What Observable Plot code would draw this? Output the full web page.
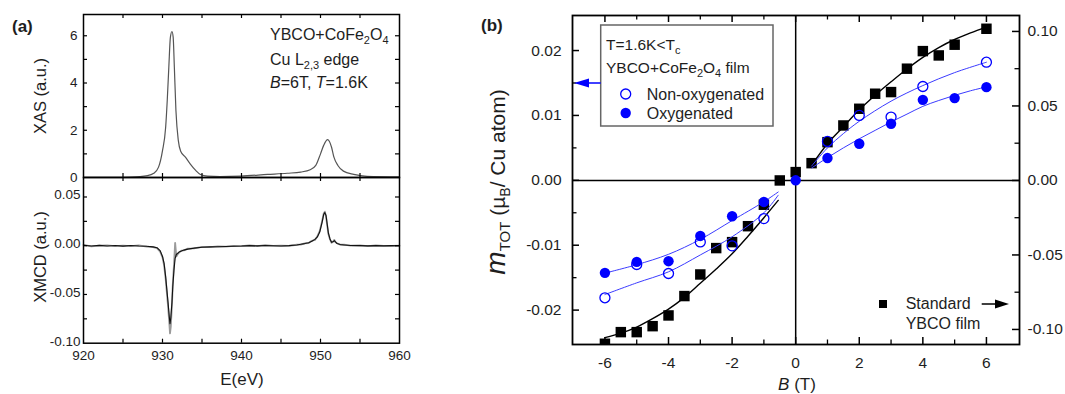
<!DOCTYPE html>
<html><head><meta charset="utf-8">
<script src="https://cdn.jsdelivr.net/npm/d3@7"></script>
<script src="https://cdn.jsdelivr.net/npm/@observablehq/plot@0.6"></script>
<style>
body{margin:0;background:#fff;}
#root{position:relative;width:1065px;height:394px;overflow:hidden;background:#fff;}
.layer{position:absolute;}
.layer svg{display:block;}
</style></head><body><div id="root"></div>
<script>
// ---------------- Panel (a) data ----------------
const xasE = [920, 924, 926, 928.1, 928.9, 929.5, 930.0, 930.4, 930.6, 930.8, 931.0, 931.2, 931.35, 931.5, 931.7, 932.0, 932.3, 932.9, 933.5, 934.2, 934.8, 935.7, 937.3, 939.9, 943.3, 945.8, 947.5, 948.7, 949.4, 950.0, 950.4, 950.9, 951.4, 951.7, 952.2, 952.9, 954.2, 955.9, 960];
const xasI = [0.01, 0.01, 0.02, 0.08, 0.18, 0.44, 1.14, 2.13, 3.26, 4.67, 5.94, 6.18, 5.94, 4.67, 2.84, 1.57, 1.11, 0.86, 0.58, 0.30, 0.13, 0.06, 0.04, 0.06, 0.13, 0.18, 0.23, 0.33, 0.51, 1.00, 1.36, 1.60, 1.28, 0.86, 0.51, 0.27, 0.13, 0.05, 0.03];

const xmcdE = [920, 921, 922, 923, 924, 925, 926, 927, 928, 928.8,
  929.3, 929.7, 930.0, 930.2, 930.4, 930.55, 930.7, 930.85, 930.95, 931.05,
  931.2, 931.3, 931.45, 931.6, 931.75, 931.9, 932.1, 932.4, 932.7, 933.2,
  934, 935, 936, 937, 938, 939, 940, 941, 942, 943,
  944, 945, 946, 947, 947.5, 948, 948.5, 948.9, 949.3, 949.6,
  949.9, 950.2, 950.4, 950.55, 950.7, 950.85, 951.0, 951.2, 951.4, 951.6,
  951.75, 951.9, 952.1, 952.5, 953, 953.8, 955, 956, 957, 958,
  959, 960];
const xmcdBlack = [0.0005, -0.0003, 0.0004, -0.0002, 0.0003, -0.0004, 0.0002, -0.0003, -0.0006, -0.0012,
  -0.002, -0.005, -0.011, -0.018, -0.032, -0.045, -0.058, -0.072, -0.080, -0.074,
  -0.058, -0.042, -0.025, -0.013, -0.009, -0.008, -0.0065, -0.0055, -0.0045, -0.0035,
  -0.0025, -0.0015, -0.0012, -0.001, -0.0008, -0.0005, -0.0003, 0.0001, -0.0002, 0.0002,
  0, -0.0003, 0.0001, 0.0008, 0.0015, 0.0022, 0.003, 0.0045, 0.0065, 0.009,
  0.014, 0.024, 0.032, 0.034, 0.031, 0.022, 0.013, 0.007, 0.0035, 0.004,
  0.0052, 0.004, 0.0022, 0.0012, 0.0008, 0.0003, 0.0001, -0.0002, 0.0001, -0.0002,
  0.0001, 0];
const xmcdGray = [0.0008, -0.0006, 0.0001, 0.0004, -0.0005, 0.0002, -0.0004, 0.0003, -0.0009, -0.0015,
  -0.0025, -0.006, -0.012, -0.020, -0.034, -0.048, -0.062, -0.078, -0.090, -0.083,
  -0.060, -0.040, -0.020, 0.003, -0.011, -0.009, -0.007, -0.005, -0.0048, -0.003,
  -0.0028, -0.0012, -0.0015, -0.0007, -0.001, -0.0002, -0.0005, 0.0004, -0.0004, 0.0005,
  -0.0002, 0.0001, -0.0002, 0.001, 0.0012, 0.0025, 0.0028, 0.005, 0.006, 0.0095,
  0.015, 0.025, 0.033, 0.035, 0.030, 0.021, 0.012, 0.0065, 0.003, 0.0045,
  0.006, 0.0035, 0.0025, 0.001, 0.0011, 0.0001, 0.0004, -0.0004, 0.0003, -0.0001,
  -0.0003, 0.0001];

const xasYLabels = [0, 2, 4, 6];
const xmcdYLabels = [-0.10, -0.05, 0.00, 0.05];
const eLabels = [920, 930, 940, 950, 960];

// ---------------- Panel (b) data ----------------
// Standard YBCO film (right axis)
const stdB = [-6, -5.5, -5, -4.5, -4, -3.5, -3, -2.5, -2, -1.5, -1, -0.5, 0, 0.5, 1, 1.5, 2, 2.5, 3, 3.5, 4, 4.5, 5, 6];
const stdM = [-0.1096, -0.1018, -0.1018, -0.0978, -0.0906, -0.0776, -0.0631, -0.0454, -0.0414, -0.0307, -0.0163, 0.0, 0.0056, 0.0116, 0.0257, 0.0369, 0.0481, 0.0582, 0.0593, 0.0750, 0.0868, 0.0839, 0.0911, 0.1018];
const stdFitNegB = [-6, -5.5, -5, -4.5, -4, -3.5, -3, -2.5, -2, -1.5, -1, -0.55];
const stdFitNegM = [-0.1055, -0.1025, -0.0984, -0.0928, -0.0864, -0.0785, -0.0690, -0.0594, -0.0492, -0.0374, -0.0250, -0.0134];
const stdFitPosB = [0.5, 1, 1.5, 2, 2.5, 3, 3.5, 4, 4.5, 5, 5.5, 6];
const stdFitPosM = [0.0101, 0.0246, 0.0360, 0.0474, 0.0572, 0.0662, 0.0748, 0.0826, 0.0892, 0.0946, 0.0990, 0.1029];
// YBCO+CoFe2O4 film (left axis)
const oxyB = [-6, -5, -4, -3, -2, -1, 0, 1, 2, 3, 4, 5, 6];
const oxyM = [-0.01426, -0.01257, -0.01246, -0.00857, -0.00554, -0.00333, 0, 0.00343, 0.00564, 0.00872, 0.0124, 0.01267, 0.01436];
const nonOxyB = [-6, -5, -4, -3, -2, -1, 1, 2, 3, 4, 6];
const nonOxyM = [-0.0181, -0.01297, -0.01436, -0.0095, -0.0101, -0.0059, 0.0060, 0.0100, 0.00974, 0.01446, 0.0182];
const oxyFitNegB = [-6, -5, -4, -3, -2, -1, -0.55];
const oxyFitNegM = [-0.0143, -0.0130, -0.0114, -0.0091, -0.0062, -0.0033, -0.0018];
const oxyFitPosB = [0.5, 1, 1.5, 2, 2.5, 3, 3.5, 4, 4.5, 5, 5.5, 6];
const oxyFitPosM = [0.0019, 0.0035, 0.0050, 0.0064, 0.0077, 0.0090, 0.0102, 0.0114, 0.0123, 0.0131, 0.0138, 0.0144];
const nonOxyFitNegB = [-6, -5, -4, -3, -2, -1, -0.55];
const nonOxyFitNegM = [-0.0176, -0.0158, -0.0141, -0.0115, -0.0087, -0.0050, -0.0023];
const nonOxyFitPosB = [0.5, 1, 1.5, 2, 3, 4, 5, 6];
const nonOxyFitPosM = [0.0022, 0.0050, 0.0072, 0.0091, 0.0122, 0.0146, 0.0166, 0.0182];

const bLabels = [-6, -4, -2, 0, 2, 4, 6];
const leftYLabels = [-0.02, -0.01, 0, 0.01, 0.02];
const rightYLabels = [-0.10, -0.05, 0, 0.05, 0.10];

// ---------------- helpers ----------------
const FONT = '"Liberation Sans", Arial, Helvetica, sans-serif';
const root = document.getElementById("root");
const STYLE = {background: "transparent", overflow: "visible", fontFamily: FONT};
function layer(node, left, top, w, h) {
  const d = document.createElement("div");
  d.className = "layer";
  Object.assign(d.style, {left: left + "px", top: top + "px", width: w + "px", height: h + "px"});
  d.appendChild(node);
  root.appendChild(d);
}
const tbl = (xs, ys) => xs.map((x, i) => ({x, y: ys[i]}));
function xTicks(vals, len, frameH, sw = 1.2) {
  return [
    Plot.tickX(vals, {x: d => d, insetBottom: frameH - len, stroke: "black", strokeWidth: sw}),
    Plot.tickX(vals, {x: d => d, insetTop: frameH - len, stroke: "black", strokeWidth: sw})
  ];
}
function yTicks(vals, len, frameW, side, sw = 1.2) {
  const out = [];
  if (side !== "right") out.push(Plot.tickY(vals, {y: d => d, insetRight: frameW - len, stroke: "black", strokeWidth: sw}));
  if (side !== "left") out.push(Plot.tickY(vals, {y: d => d, insetLeft: frameW - len, stroke: "black", strokeWidth: sw}));
  return out;
}
const fmt2 = d => d.toFixed(2);
const LBL = "#1e1e1e";

// ---------------- Panel (a) top : XAS ----------------
{
  const W = 420, H = 190, mL = 83, mR = 21, mT = 14, mB = 13;
  const fw = W - mL - mR, fh = H - mT - mB;
  const p = Plot.plot({
    width: W, height: H, marginLeft: mL, marginRight: mR, marginTop: mT, marginBottom: mB,
    x: {domain: [920, 960], axis: null}, y: {domain: [0, 6.9], axis: null},
    style: STYLE,
    marks: [
      Plot.line(tbl(xasE, xasI), {x: "x", y: "y", stroke: "#555", strokeWidth: 1.2, curve: "monotone-x"}),
      ...xTicks([925, 930, 935, 940, 945, 950, 955], 4, fh),
      ...yTicks([1, 2, 3, 4, 5, 6], 4, fw, "both"),
      Plot.text(xasYLabels, {y: d => d, text: d => String(d), frameAnchor: "left", dx: -6, textAnchor: "end", fontSize: 13.5, fill: LBL, fontFamily: FONT}),
      Plot.frame({stroke: "black", strokeWidth: 1.5})
    ]
  });
  layer(p, 0, 0, W, H);
}

// ---------------- Panel (a) bottom : XMCD ----------------
{
  const W = 420, H = 234, mL = 83, mR = 21, mT = 17, mB = 51.3;
  const fw = W - mL - mR, fh = H - mT - mB;
  const p = Plot.plot({
    width: W, height: H, marginLeft: mL, marginRight: mR, marginTop: mT, marginBottom: mB,
    x: {domain: [920, 960], axis: null}, y: {domain: [-0.1, 0.07], axis: null},
    style: STYLE,
    marks: [
      Plot.line(tbl(xmcdE, xmcdGray), {x: "x", y: "y", stroke: "#9a9a9a", strokeWidth: 1.8}),
      Plot.line(tbl(xmcdE, xmcdBlack), {x: "x", y: "y", stroke: "#111", strokeWidth: 1.1}),
      ...xTicks([925, 930, 935, 940, 945, 950, 955], 4, fh),
      ...yTicks([-0.075, -0.05, -0.025, 0, 0.025, 0.05], 4, fw, "both"),
      Plot.text(xmcdYLabels, {y: d => d, text: fmt2, frameAnchor: "left", dx: -3, dy: -2, textAnchor: "end", fontSize: 13.5, fill: LBL, fontFamily: FONT}),
      Plot.text(eLabels, {x: d => d, text: d => String(d), frameAnchor: "bottom", dy: 7, lineAnchor: "top", fontSize: 13.5, fill: LBL, fontFamily: FONT}),
      Plot.frame({stroke: "black", strokeWidth: 1.5})
    ]
  });
  layer(p, 0, 160, W, H);
}

// ---------------- Panel (b) ----------------
const PB = {W: 585, H: 394, mL: 92, mR: 46, mT: 15, mB: 50};
PB.fw = PB.W - PB.mL - PB.mR; PB.fh = PB.H - PB.mT - PB.mB;
const bX = {domain: [-7.02, 7.04], axis: null};
// layer 1 : standard YBCO film, right axis
{
  const p = Plot.plot({
    width: PB.W, height: PB.H, marginLeft: PB.mL, marginRight: PB.mR, marginTop: PB.mT, marginBottom: PB.mB,
    x: bX, y: {domain: [-0.1101, 0.1107], axis: null},
    style: STYLE,
    marks: [
      Plot.ruleX([0], {stroke: "black", strokeWidth: 1.5}),
      Plot.ruleY([0], {stroke: "black", strokeWidth: 1.5}),
      Plot.line(tbl(stdFitNegB, stdFitNegM), {x: "x", y: "y", stroke: "black", strokeWidth: 1.4, curve: "catmull-rom"}),
      Plot.line(tbl(stdFitPosB, stdFitPosM), {x: "x", y: "y", stroke: "black", strokeWidth: 1.4, curve: "catmull-rom"}),
      Plot.dot(tbl(stdB, stdM), {x: "x", y: "y", symbol: "square", r: 5.9, fill: "black", stroke: "none", clip: true}),
      ...xTicks([-6, -4, -2, 0, 2, 4, 6], 7, PB.fh, 1.5),
      ...xTicks([-5, -3, -1, 1, 3, 5], 4.5, PB.fh, 1.3),
      ...yTicks([-0.1, -0.05, 0, 0.05, 0.1], 7, PB.fw, "right", 1.5),
      ...yTicks([-0.075, -0.025, 0.025, 0.075], 4.5, PB.fw, "right", 1.3),
      Plot.text(rightYLabels, {y: d => d, text: fmt2, frameAnchor: "right", dx: 8, textAnchor: "start", fontSize: 15.5, fill: LBL, fontFamily: FONT}),
      Plot.text(bLabels, {x: d => d, text: d => String(d), frameAnchor: "bottom", dy: 12, lineAnchor: "top", fontSize: 15.5, fill: LBL, fontFamily: FONT}),
      Plot.frame({stroke: "black", strokeWidth: 1.8})
    ]
  });
  layer(p, 480, 0, PB.W, PB.H);
}
// layer 2 : YBCO+CoFe2O4 film, left axis
{
  const BLUE = "#0000ff";
  const p = Plot.plot({
    width: PB.W, height: PB.H, marginLeft: PB.mL, marginRight: PB.mR, marginTop: PB.mT, marginBottom: PB.mB,
    x: bX, y: {domain: [-0.0253, 0.0254], axis: null},
    style: STYLE,
    marks: [
      Plot.line(tbl(nonOxyFitNegB, nonOxyFitNegM), {x: "x", y: "y", stroke: "#3b3bff", strokeWidth: 1, curve: "catmull-rom"}),
      Plot.line(tbl(nonOxyFitPosB, nonOxyFitPosM), {x: "x", y: "y", stroke: "#3b3bff", strokeWidth: 1, curve: "catmull-rom"}),
      Plot.line(tbl(oxyFitNegB, oxyFitNegM), {x: "x", y: "y", stroke: "#3b3bff", strokeWidth: 1, curve: "catmull-rom"}),
      Plot.line(tbl(oxyFitPosB, oxyFitPosM), {x: "x", y: "y", stroke: "#3b3bff", strokeWidth: 1, curve: "catmull-rom"}),
      Plot.dot(tbl(nonOxyB, nonOxyM), {x: "x", y: "y", r: 5, stroke: BLUE, strokeWidth: 1.3, fill: "none"}),
      Plot.dot(tbl(oxyB, oxyM), {x: "x", y: "y", r: 5.2, fill: BLUE, stroke: "none"}),
      ...yTicks([-0.02, -0.01, 0, 0.01, 0.02], 7, PB.fw, "left", 1.5),
      ...yTicks([-0.015, -0.005, 0.005, 0.015], 4.5, PB.fw, "left", 1.3),
      Plot.text(leftYLabels, {y: d => d, text: fmt2, frameAnchor: "left", dx: -11, textAnchor: "end", fontSize: 15.5, fill: LBL, fontFamily: FONT})
    ]
  });
  layer(p, 480, 0, PB.W, PB.H);
}

// ---------------- annotations (text, legend) ----------------
{
  const svg = d3.create("svg").attr("width", 1065).attr("height", 394)
    .style("font-family", FONT).style("overflow", "visible");
  function rich(x, y, parts, size, opt = {}) {
    const t = svg.append("text").attr("x", x).attr("y", y).attr("font-size", size)
      .attr("fill", opt.fill || "#1e1e1e").attr("text-anchor", opt.anchor || "start");
    if (opt.weight) t.attr("font-weight", opt.weight);
    if (opt.rotate) t.attr("transform", `rotate(${opt.rotate},${x},${y})`);
    let shift = 0;
    parts.forEach(p => {
      const ps = p.size || size;
      const target = p.sub ? ps * 0.35 : 0;
      const ts = t.append("tspan").text(p.t);
      if (target - shift !== 0) ts.attr("dy", target - shift);
      shift = target;
      if (p.size) ts.attr("font-size", p.size);
      if (p.italic) ts.attr("font-style", "italic");
    });
    return t;
  }
  // panel labels
  rich(12, 32, [{t: "(a)"}], 17, {weight: "bold"});
  rich(481, 31, [{t: "(b)"}], 17, {weight: "bold"});
  // panel (a) axis titles
  rich(46, 96, [{t: "XAS (a.u.)"}], 16.5, {anchor: "middle", rotate: -90});
  rich(46, 257, [{t: "XMCD (a.u.)"}], 16.5, {anchor: "middle", rotate: -90});
  rich(242, 385, [{t: "E(eV)"}], 17, {anchor: "middle"});
  // panel (a) annotation
  rich(270, 40, [{t: "YBCO+CoFe"}, {t: "2", sub: true, size: 11}, {t: "O"}, {t: "4", sub: true, size: 11}], 16);
  rich(270, 65, [{t: "Cu L"}, {t: "2,3", sub: true, size: 11}, {t: " edge"}], 16);
  rich(270, 88, [{t: "B", italic: true}, {t: "=6T, "}, {t: "T", italic: true}, {t: "=1.6K"}], 16);
  // panel (b) axis titles
  rich(505, 182, [{t: "m", italic: true, size: 28}, {t: "TOT", sub: true, size: 15}, {t: " (\u00b5"}, {t: "B", sub: true, size: 14}, {t: "/ Cu atom)"}], 21, {anchor: "middle", rotate: -90});
  rich(797, 390, [{t: "B", italic: true}, {t: " (T)"}], 17, {anchor: "middle"});
  // legend box
  svg.append("rect").attr("x", 600.7).attr("y", 25).attr("width", 172.3).attr("height", 101)
    .attr("fill", "white").attr("stroke", "#666").attr("stroke-width", 1.5);
  rich(606, 50, [{t: "T=1.6K<T"}, {t: "c", sub: true, size: 11}], 15.5);
  rich(606, 73, [{t: "YBCO+CoFe"}, {t: "2", sub: true, size: 11}, {t: "O"}, {t: "4", sub: true, size: 11}, {t: " film"}], 15.5);
  svg.append("circle").attr("cx", 625.7).attr("cy", 94).attr("r", 5).attr("fill", "none").attr("stroke", "#0000ff").attr("stroke-width", 1.3);
  svg.append("circle").attr("cx", 625.7).attr("cy", 113).attr("r", 5.2).attr("fill", "#0000ff");
  rich(646.7, 99.5, [{t: "Non-oxygenated"}], 16);
  rich(646.7, 118.5, [{t: "Oxygenated"}], 16);
  // blue arrow to left axis
  svg.append("line").attr("x1", 600.7).attr("y1", 83).attr("x2", 586).attr("y2", 83).attr("stroke", "#0000ff").attr("stroke-width", 1.5);
  svg.append("path").attr("d", "M574,83 L589,78.5 L589,87.5 Z").attr("fill", "#0000ff");
  // standard film label
  svg.append("rect").attr("x", 879).attr("y", 300).attr("width", 8).attr("height", 8).attr("fill", "black");
  rich(905.7, 309, [{t: "Standard"}], 16);
  rich(905.7, 328.5, [{t: "YBCO film"}], 16);
  svg.append("line").attr("x1", 981.7).attr("y1", 304).attr("x2", 997).attr("y2", 304).attr("stroke", "black").attr("stroke-width", 1.5);
  svg.append("path").attr("d", "M1009,304 L995,299.5 L995,308.5 Z").attr("fill", "black");
  layer(svg.node(), 0, 0, 1065, 394);
}
</script></body></html>
